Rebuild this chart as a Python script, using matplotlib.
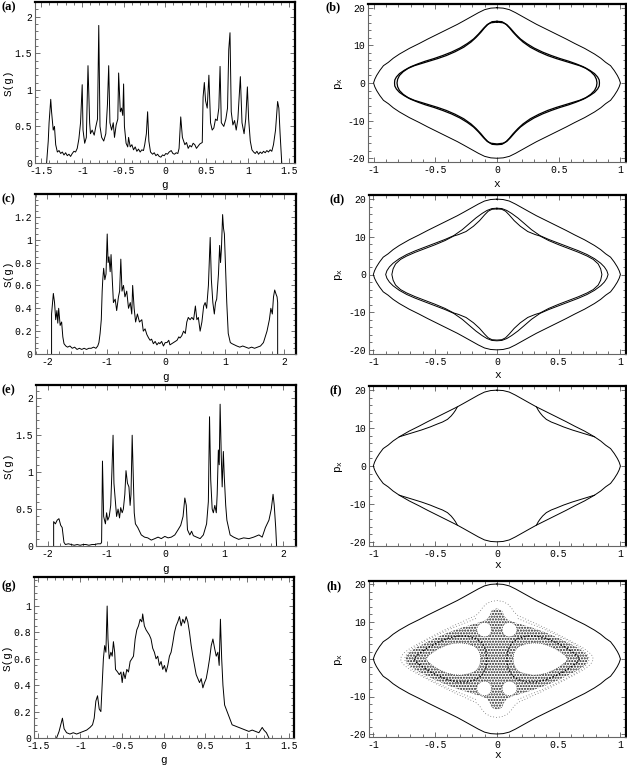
import numpy as np
import matplotlib
matplotlib.use("Agg")
import matplotlib.pyplot as plt
from matplotlib.ticker import MultipleLocator, FormatStrFormatter, FixedLocator

plt.rcParams['font.family'] = ['Liberation Mono', 'DejaVu Sans Mono']
plt.rcParams['axes.unicode_minus'] = False
plt.rcParams['mathtext.fontset'] = 'custom'
plt.rcParams['mathtext.rm'] = 'Liberation Mono'
plt.rcParams['hatch.linewidth'] = 1.0

# ---------------- spectra S(g) ----------------
g_a = [-1.43, -1.41, -1.40, -1.38, -1.37, -1.35, -1.335, -1.32, -1.30, -1.28,
       -1.26, -1.24, -1.22, -1.20, -1.18, -1.16, -1.14, -1.12, -1.10, -1.08,
       -1.06, -1.04, -1.02, -1.00, -0.99, -0.97, -0.95, -0.93, -0.91, -0.90,
       -0.88, -0.855, -0.835, -0.815, -0.80, -0.785, -0.765, -0.74, -0.715, -0.695,
       -0.68, -0.665, -0.645, -0.625, -0.61, -0.59, -0.57, -0.56, -0.54, -0.525,
       -0.51, -0.50, -0.49, -0.47, -0.45, -0.44, -0.42, -0.40, -0.38, -0.36,
       -0.34, -0.32, -0.30, -0.28, -0.26, -0.245, -0.225, -0.21, -0.195, -0.175,
       -0.15, -0.13, -0.11, -0.09, -0.07, -0.05, -0.03, -0.01, 0.01, 0.03,
       0.05, 0.075, 0.095, 0.115, 0.135, 0.155, 0.17, 0.19, 0.21, 0.24,
       0.26, 0.28, 0.30, 0.32, 0.34, 0.36, 0.38, 0.40, 0.42, 0.45,
       0.46, 0.475, 0.49, 0.51, 0.53, 0.55, 0.57, 0.59, 0.61, 0.63,
       0.65, 0.665, 0.68, 0.71, 0.735, 0.755, 0.77, 0.785, 0.80, 0.82,
       0.84, 0.86, 0.88, 0.895, 0.91, 0.93, 0.955, 0.975, 0.995, 1.01,
       1.03, 1.05, 1.07, 1.09, 1.11, 1.13, 1.15, 1.17, 1.19, 1.21,
       1.23, 1.25, 1.27, 1.29, 1.31, 1.335, 1.36, 1.375, 1.39, 1.41]
s_a = [0.00, 0.30, 0.55, 0.87, 0.70, 0.45, 0.50, 0.25, 0.15, 0.17,
       0.13, 0.15, 0.11, 0.14, 0.10, 0.12, 0.09, 0.13, 0.16, 0.15,
       0.20, 0.33, 0.55, 1.07, 0.45, 0.27, 0.35, 1.33, 0.55, 0.40,
       0.45, 0.38, 0.50, 0.60, 1.88, 0.50, 0.35, 0.30, 0.40, 0.80,
       1.33, 0.55, 0.45, 0.55, 0.35, 0.52, 0.60, 1.23, 0.70, 0.75,
       0.65, 1.08, 0.50, 0.27, 0.22, 0.35, 0.22, 0.25, 0.18, 0.22,
       0.16, 0.19, 0.15, 0.18, 0.17, 0.25, 0.40, 0.70, 0.30, 0.15,
       0.12, 0.14, 0.10, 0.12, 0.09, 0.08, 0.11, 0.10, 0.13, 0.12,
       0.15, 0.17, 0.13, 0.12, 0.14, 0.13, 0.20, 0.63, 0.35, 0.25,
       0.28, 0.20, 0.24, 0.22, 0.27, 0.25, 0.20, 0.23, 0.26, 0.28,
       0.90, 1.10, 0.85, 0.75, 1.20, 0.55, 0.45, 0.48, 0.60, 0.58,
       0.75, 1.32, 0.55, 0.50, 0.60, 0.75, 1.55, 1.78, 0.70, 0.52,
       0.58, 0.45, 0.60, 0.90, 1.18, 0.55, 0.40, 0.60, 1.04, 0.60,
       0.30, 0.18, 0.15, 0.13, 0.16, 0.12, 0.15, 0.13, 0.16, 0.14,
       0.17, 0.15, 0.18, 0.16, 0.25, 0.45, 0.84, 0.75, 0.40, 0.00]

g_c = [-1.93, -1.93, -1.90, -1.88, -1.86, -1.84, -1.825, -1.81, -1.785, -1.76,
       -1.74, -1.72, -1.69, -1.66, -1.62, -1.58, -1.54, -1.50, -1.46, -1.42,
       -1.38, -1.34, -1.30, -1.26, -1.22, -1.18, -1.15, -1.13, -1.11, -1.09,
       -1.075, -1.065, -1.05, -1.03, -1.01, -0.99, -0.975, -0.96, -0.94, -0.925,
       -0.90, -0.885, -0.855, -0.83, -0.80, -0.78, -0.76, -0.74, -0.715, -0.69,
       -0.66, -0.63, -0.60, -0.575, -0.56, -0.535, -0.51, -0.48, -0.445, -0.405,
       -0.38, -0.35, -0.32, -0.29, -0.265, -0.24, -0.21, -0.18, -0.15, -0.12,
       -0.10, -0.07, -0.04, -0.01, 0.02, 0.05, 0.07, 0.10, 0.13, 0.16,
       0.19, 0.22, 0.24, 0.27, 0.30, 0.33, 0.355, 0.38, 0.41, 0.44,
       0.47, 0.50, 0.525, 0.55, 0.58, 0.61, 0.64, 0.665, 0.69, 0.72,
       0.75, 0.77, 0.795, 0.82, 0.84, 0.86, 0.89, 0.91, 0.925, 0.94,
       0.96, 0.975, 0.99, 1.01, 1.03, 1.055, 1.09, 1.12, 1.16, 1.20,
       1.25, 1.30, 1.35, 1.40, 1.45, 1.50, 1.55, 1.60, 1.65, 1.71,
       1.75, 1.775, 1.80, 1.82, 1.84, 1.865, 1.88, 1.89, 1.89]
s_c = [0.00, 0.35, 0.53, 0.45, 0.30, 0.38, 0.27, 0.40, 0.25, 0.28,
       0.15, 0.09, 0.07, 0.06, 0.07, 0.05, 0.06, 0.04, 0.05, 0.04,
       0.05, 0.04, 0.05, 0.05, 0.06, 0.05, 0.07, 0.10, 0.18, 0.30,
       0.55, 0.65, 0.75, 0.65, 0.70, 1.05, 0.80, 0.85, 0.72, 0.87,
       0.60, 0.45, 0.48, 0.38, 0.50, 0.55, 0.83, 0.55, 0.60, 0.50,
       0.55, 0.40, 0.45, 0.35, 0.60, 0.40, 0.28, 0.35, 0.28, 0.30,
       0.20, 0.22, 0.17, 0.14, 0.12, 0.13, 0.09, 0.11, 0.08, 0.10,
       0.09, 0.11, 0.07, 0.10, 0.10, 0.12, 0.08, 0.09, 0.10, 0.11,
       0.12, 0.15, 0.14, 0.16, 0.20, 0.18, 0.28, 0.32, 0.30, 0.32,
       0.30, 0.42, 0.30, 0.32, 0.20, 0.28, 0.42, 0.45, 0.40, 0.60,
       1.02, 0.65, 0.45, 0.35, 0.45, 0.48, 0.70, 0.95, 0.80, 0.92,
       1.22, 1.10, 1.05, 0.75, 0.45, 0.18, 0.10, 0.09, 0.08, 0.07,
       0.06, 0.07, 0.06, 0.05, 0.06, 0.05, 0.06, 0.07, 0.10, 0.20,
       0.30, 0.40, 0.35, 0.50, 0.56, 0.52, 0.50, 0.45, 0.00]

g_e = [-1.90, -1.90, -1.87, -1.84, -1.81, -1.78, -1.755, -1.725, -1.70, -1.65,
       -1.60, -1.55, -1.50, -1.45, -1.40, -1.35, -1.30, -1.25, -1.20, -1.15,
       -1.10, -1.085, -1.07, -1.05, -1.02, -1.00, -0.98, -0.955, -0.93, -0.91,
       -0.89, -0.875, -0.85, -0.83, -0.805, -0.78, -0.76, -0.735, -0.715, -0.69,
       -0.67, -0.645, -0.62, -0.60, -0.585, -0.565, -0.555, -0.53, -0.51, -0.47,
       -0.41, -0.355, -0.30, -0.24, -0.18, -0.125, -0.07, -0.01, 0.045, 0.10,
       0.16, 0.215, 0.26, 0.30, 0.33, 0.355, 0.375, 0.415, 0.445, 0.475,
       0.53, 0.59, 0.645, 0.70, 0.73, 0.75, 0.77, 0.795, 0.815, 0.84,
       0.865, 0.88, 0.90, 0.915, 0.93, 0.95, 0.965, 0.985, 1.00, 1.025,
       1.045, 1.10, 1.16, 1.245, 1.33, 1.42, 1.50, 1.59, 1.645, 1.70,
       1.76, 1.80, 1.83, 1.85, 1.875, 1.89]
s_e = [0.00, 0.33, 0.30, 0.35, 0.37, 0.28, 0.25, 0.05, 0.02, 0.03,
       0.02, 0.01, 0.02, 0.01, 0.02, 0.02, 0.01, 0.02, 0.02, 0.03,
       0.03, 0.05, 1.15, 0.40, 0.30, 0.45, 0.35, 0.40, 0.55, 1.00,
       1.50, 0.85, 0.60, 0.40, 0.50, 0.38, 0.52, 0.45, 0.50, 0.70,
       1.02, 0.85, 0.80, 0.55, 0.70, 1.50, 1.20, 0.45, 0.30, 0.25,
       0.15, 0.12, 0.11, 0.08, 0.10, 0.12, 0.10, 0.13, 0.11, 0.12,
       0.15, 0.22, 0.28, 0.40, 0.65, 0.55, 0.22, 0.15, 0.20, 0.14,
       0.12, 0.10, 0.15, 0.30, 0.60, 1.75, 0.90, 0.50, 0.45, 0.55,
       0.45, 0.70, 1.30, 1.10, 1.92, 1.20, 0.80, 1.28, 0.95, 0.55,
       0.35, 0.15, 0.12, 0.09, 0.11, 0.10, 0.12, 0.15, 0.12, 0.25,
       0.35, 0.50, 0.70, 0.55, 0.25, 0.00]

g_g = [-1.28, -1.25, -1.23, -1.21, -1.19, -1.16, -1.12, -1.08, -1.04, -1.00,
       -0.96, -0.92, -0.88, -0.85, -0.83, -0.81, -0.79, -0.77, -0.75, -0.735,
       -0.72, -0.705, -0.69, -0.675, -0.665, -0.65, -0.63, -0.615, -0.60, -0.585,
       -0.575, -0.55, -0.53, -0.51, -0.495, -0.48, -0.46, -0.44, -0.42, -0.40,
       -0.38, -0.36, -0.34, -0.32, -0.30, -0.28, -0.26, -0.25, -0.23, -0.21,
       -0.19, -0.17, -0.15, -0.13, -0.11, -0.09, -0.07, -0.05, -0.03, -0.01,
       0.01, 0.03, 0.05, 0.07, 0.09, 0.11, 0.13, 0.15, 0.17, 0.19,
       0.21, 0.23, 0.25, 0.27, 0.29, 0.31, 0.33, 0.35, 0.37, 0.39,
       0.41, 0.43, 0.45, 0.47, 0.49, 0.51, 0.53, 0.55, 0.57, 0.59,
       0.61, 0.63, 0.65, 0.665, 0.68, 0.695, 0.71, 0.73, 0.76, 0.79,
       0.82, 0.86, 0.90, 0.94, 0.98, 1.02, 1.06, 1.10, 1.14, 1.16,
       1.18, 1.20, 1.23, 1.26]
s_g = [0.00, 0.05, 0.10, 0.15, 0.07, 0.04, 0.03, 0.04, 0.03, 0.04,
       0.05, 0.06, 0.08, 0.10, 0.15, 0.28, 0.32, 0.22, 0.20, 0.40,
       0.60, 0.70, 0.65, 1.00, 0.75, 0.60, 0.65, 0.62, 0.73, 0.65,
       0.52, 0.50, 0.48, 0.50, 0.42, 0.50, 0.45, 0.52, 0.50, 0.58,
       0.60, 0.62, 0.75, 0.82, 0.85, 0.90, 0.88, 0.94, 0.85, 0.82,
       0.80, 0.78, 0.75, 0.68, 0.65, 0.60, 0.62, 0.55, 0.58, 0.52,
       0.55, 0.50, 0.55, 0.62, 0.65, 0.72, 0.80, 0.85, 0.88, 0.92,
       0.85, 0.90, 0.87, 0.92, 0.88, 0.80, 0.70, 0.62, 0.55, 0.48,
       0.45, 0.42, 0.45, 0.38, 0.42, 0.45, 0.52, 0.60, 0.70, 0.75,
       0.68, 0.62, 0.65, 0.55, 0.90, 0.60, 0.40, 0.25, 0.20, 0.15,
       0.10, 0.09, 0.08, 0.07, 0.06, 0.05, 0.06, 0.05, 0.04, 0.06,
       0.08, 0.06, 0.04, 0.00]

# ---------------- phase-space curves (first quadrant, x >= 0, p >= 0) ----------------
outer_x = [0.0, 0.05, 0.10, 0.15, 0.21, 0.27, 0.32, 0.40, 0.48, 0.56,
           0.63, 0.71, 0.79, 0.84, 0.88, 0.92, 0.95, 0.975, 0.99, 1.0]
outer_p = [20.0, 19.9, 19.5, 18.7, 17.6, 16.5, 15.6, 14.3, 13.0, 11.7,
           10.5, 9.2, 7.7, 6.6, 5.5, 4.6, 3.3, 2.0, 1.0, 0.0]

b1_x = [0.0, 0.04, 0.07, 0.10, 0.13, 0.17, 0.21, 0.27, 0.34, 0.41,
        0.48, 0.55, 0.61, 0.67, 0.72, 0.76, 0.79, 0.805, 0.81]
b1_p = [16.4, 16.3, 15.7, 14.7, 13.5, 12.1, 10.9, 9.5, 8.3, 7.3,
        6.5, 5.8, 5.2, 4.6, 3.9, 3.0, 2.0, 1.0, 0.0]
b2_x = [0.0, 0.05, 0.08, 0.11, 0.15, 0.19, 0.24, 0.30, 0.37, 0.44,
        0.51, 0.58, 0.64, 0.70, 0.75, 0.79, 0.815, 0.828, 0.83]
b2_p = [16.2, 16.0, 15.5, 14.5, 13.0, 11.7, 10.5, 9.3, 8.2, 7.3,
        6.5, 5.8, 5.1, 4.3, 3.4, 2.5, 1.6, 0.8, 0.0]

d1_x = [0.0, 0.04, 0.08, 0.12, 0.17, 0.22, 0.28, 0.35, 0.42, 0.50,
        0.58, 0.66, 0.73, 0.79, 0.84, 0.87, 0.89, 0.90]
d1_p = [17.6, 17.5, 17.0, 16.2, 15.0, 13.6, 11.9, 10.3, 9.3, 8.3,
        7.3, 6.3, 5.3, 4.2, 3.0, 2.0, 1.0, 0.0]
d2_x = [0.0, 0.04, 0.07, 0.10, 0.14, 0.19, 0.25, 0.31, 0.35, 0.42,
        0.50, 0.58, 0.66, 0.73, 0.78, 0.82, 0.84, 0.85]
d2_p = [17.4, 17.3, 16.8, 15.8, 14.3, 12.8, 11.4, 10.6, 10.2, 9.0,
        7.9, 6.9, 5.9, 4.9, 4.0, 2.8, 1.5, 0.0]

f_arc_x = [0.32, 0.335, 0.35, 0.37, 0.40, 0.44, 0.48, 0.54, 0.61, 0.68, 0.75, 0.79]
f_arc_p = [15.6, 14.7, 14.0, 13.2, 12.3, 11.6, 11.1, 10.3, 9.5, 8.8, 8.1, 7.7]

# chaotic sea of panel (h)
h_env_x = [0.0, 0.05, 0.09, 0.12, 0.14, 0.17, 0.25, 0.35, 0.45, 0.55,
           0.63, 0.70, 0.745, 0.77, 0.78]
h_env_p = [15.6, 15.3, 14.6, 13.5, 12.5, 11.6, 10.4, 8.9, 7.3, 5.6,
           4.2, 2.9, 1.8, 0.9, 0.0]
h_mid_x = [0.17, 0.25, 0.35, 0.45, 0.55, 0.63, 0.69, 0.73, 0.75]
h_mid_p = [10.8, 9.7, 8.4, 6.9, 5.3, 3.9, 2.6, 1.3, 0.0]
h_dense_x = [0.0, 0.04, 0.06, 0.08, 0.12, 0.20, 0.30, 0.40, 0.50, 0.58,
             0.65, 0.70, 0.73, 0.74]
h_dense_p = [13.5, 13.0, 11.5, 10.6, 10.0, 9.2, 8.2, 7.0, 5.6, 4.3,
             3.1, 2.0, 1.0, 0.0]
h_hole_x = [0.13, 0.135, 0.15, 0.18, 0.23, 0.29, 0.35, 0.41, 0.47, 0.52, 0.555, 0.575]
h_hole_p = [0.0, 1.3, 2.5, 3.4, 4.0, 4.3, 4.2, 3.7, 2.8, 1.8, 0.9, 0.0]
h_ring_x = [0.08, 0.09, 0.12, 0.17, 0.24, 0.32, 0.40, 0.48, 0.55, 0.61, 0.65, 0.67]
h_ring_p = [0.0, 2.4, 4.3, 5.5, 6.1, 6.1, 5.5, 4.4, 3.2, 1.9, 0.9, 0.0]
h_eye_x = [0.04, 0.05, 0.07, 0.10, 0.13, 0.155, 0.165, 0.155, 0.13, 0.10, 0.07, 0.05, 0.04]
h_eye_p = [7.8, 8.9, 9.6, 9.8, 9.6, 8.9, 7.8, 6.8, 6.1, 5.9, 6.1, 6.8, 7.8]


def mirror4(xq, pq):
    """Close a first-quadrant arc into a loop symmetric in x and p."""
    xq = np.asarray(xq)
    pq = np.asarray(pq)
    x = np.concatenate([xq, xq[::-1], -xq, -xq[::-1]])
    p = np.concatenate([pq, -pq[::-1], -pq, pq[::-1]])
    return x, p


def style_axes(ax, xlabel, ylabel, xmaj, xmin, ymaj, ymin, yticks=None):
    ax.xaxis.set_major_locator(MultipleLocator(xmaj))
    ax.xaxis.set_minor_locator(MultipleLocator(xmin))
    if yticks is None:
        ax.yaxis.set_major_locator(MultipleLocator(ymaj))
    else:
        ax.yaxis.set_major_locator(FixedLocator(yticks))
    ax.yaxis.set_minor_locator(MultipleLocator(ymin))
    ax.xaxis.set_major_formatter(FormatStrFormatter('%g'))
    ax.yaxis.set_major_formatter(FormatStrFormatter('%g'))
    ax.tick_params(which='both', direction='in', top=True, right=True,
                   color='0.35', width=0.6, labelsize=7, pad=2)
    ax.tick_params(which='major', length=3.5)
    ax.tick_params(which='minor', length=2)
    for side in ['top', 'right']:
        ax.spines[side].set_linewidth(1.6)
        ax.spines[side].set_color('black')
    for side in ['left', 'bottom']:
        ax.spines[side].set_linewidth(0.8)
        ax.spines[side].set_color('0.4')
    ax.set_xlabel(xlabel, fontsize=8)
    ax.set_ylabel(ylabel, fontsize=8)


fig = plt.figure(figsize=(6.27, 7.67), dpi=100)
W, H = 627.0, 767.0


def add_axes(left, top, right, bottom):
    ax = fig.add_axes([left / W, 1 - bottom / H, (right - left) / W, (bottom - top) / H])
    return ax


def place_labels(ax, left, top, right, bottom, ylab_x, xlab_y):
    # ylab_x: right edge of the rotated y label, xlab_y: top of the x label (pixels)
    ax.yaxis.set_label_coords((ylab_x - left) / (right - left), 0.5)
    ax.xaxis.set_label_coords(0.5, (bottom - xlab_y) / (bottom - top))


line_kw = dict(color='black', lw=0.7)

# (a)
box = (35, 2, 295, 163)
ax = add_axes(*box)
ax.plot(g_a, s_a, **line_kw)
ax.set_xlim(-1.57, 1.57)
ax.set_ylim(0, 2.2)
style_axes(ax, 'g', 'S(g)', 0.5, 0.1, 0.5, 0.1)
place_labels(ax, *box, 14, 180)

# (c)
box = (35, 194, 296, 354)
ax = add_axes(*box)
ax.plot(g_c, s_c, **line_kw)
ax.set_xlim(-2.21, 2.2)
ax.set_ylim(0, 1.4)
style_axes(ax, 'g', 'S(g)', 1, 0.2, 0.2, 0.05, yticks=[0, 0.2, 0.4, 0.6, 0.8, 1, 1.2])
place_labels(ax, *box, 14, 372)

# (e)
box = (36, 385, 296, 546)
ax = add_axes(*box)
ax.plot(g_e, s_e, **line_kw)
ax.set_xlim(-2.2, 2.22)
ax.set_ylim(0, 2.18)
style_axes(ax, 'g', 'S(g)', 1, 0.2, 0.5, 0.1)
place_labels(ax, *box, 14, 564)

# (g)
box = (34, 577, 294, 738)
ax = add_axes(*box)
ax.plot(g_g, s_g, **line_kw)
ax.set_xlim(-1.55, 1.56)
ax.set_ylim(0, 1.22)
style_axes(ax, 'g', 'S(g)', 0.5, 0.1, 0.2, 0.05, yticks=[0, 0.2, 0.4, 0.6, 0.8, 1])
place_labels(ax, *box, 13, 755)

px_label = r'$\mathregular{p_x}$'
ox, op = mirror4(outer_x, outer_p)

# (b)
box = (368, 4, 626, 162)
ax = add_axes(*box)
ax.plot(ox, op, **line_kw)
for cx, cp in [(b1_x, b1_p), (b2_x, b2_p)]:
    x, p = mirror4(cx, cp)
    ax.plot(x, p, color='black', lw=0.9)
ax.set_xlim(-1.045, 1.045)
ax.set_ylim(-21, 21)
style_axes(ax, 'x', px_label, 0.5, 0.1, 10, 2)
place_labels(ax, *box, 345, 179)

# (d)
box = (369, 195, 626, 354)
ax = add_axes(*box)
ax.plot(ox, op, **line_kw)
for cx, cp in [(d1_x, d1_p), (d2_x, d2_p)]:
    x, p = mirror4(cx, cp)
    ax.plot(x, p, **line_kw)
ax.set_xlim(-1.035, 1.045)
ax.set_ylim(-21.1, 21.1)
style_axes(ax, 'x', px_label, 0.5, 0.1, 10, 2)
place_labels(ax, *box, 345, 370)

# (f)
box = (369, 386, 626, 546)
ax = add_axes(*box)
ax.plot(ox, op, **line_kw)
for sx in (1, -1):
    for sp in (1, -1):
        ax.plot(sx * np.asarray(f_arc_x), sp * np.asarray(f_arc_p), **line_kw)
ax.set_xlim(-1.035, 1.045)
ax.set_ylim(-21.1, 21.1)
style_axes(ax, 'x', px_label, 0.5, 0.1, 10, 2)
place_labels(ax, *box, 345, 560)

# (h)
box = (369, 581, 626, 737)
ax = add_axes(*box)
ax.plot(ox, op, **line_kw)
x, p = mirror4(h_dense_x, h_dense_p)
ax.fill(x, p, facecolor='white', edgecolor='0.1', hatch='......', lw=0)
hx = np.concatenate([h_hole_x, h_hole_x[::-1]])
hp = np.concatenate([h_hole_p, -np.asarray(h_hole_p[::-1])])
rx = np.concatenate([h_ring_x, h_ring_x[::-1]])
rp = np.concatenate([h_ring_p, -np.asarray(h_ring_p[::-1])])
dot = (0, (1, 1.5))
for sx in (1, -1):
    ax.plot(sx * rx, rp, color='black', lw=1.0, ls=dot)
    ax.fill(sx * hx, hp, facecolor='white', edgecolor='none')
    ax.plot(sx * hx, hp, color='0.25', lw=0.6, ls=dot)
for sx in (1, -1):
    for sp in (1, -1):
        ax.fill(sx * np.asarray(h_eye_x), sp * np.asarray(h_eye_p),
                facecolor='white', edgecolor='none')
        ax.plot(sx * np.asarray(h_eye_x), sp * np.asarray(h_eye_p),
                color='0.25', lw=0.6, ls=dot)
        ax.plot(sx * np.asarray(h_mid_x), sp * np.asarray(h_mid_p),
                color='0.45', lw=0.6, ls=(0, (1, 2.5)))
x, p = mirror4(h_env_x, h_env_p)
ax.plot(x, p, color='0.45', lw=0.6, ls=(0, (1, 2.5)))
ax.set_xlim(-1.035, 1.045)
ax.set_ylim(-20.8, 20.8)
style_axes(ax, 'x', px_label, 0.5, 0.1, 10, 2)
place_labels(ax, *box, 345, 750)

# panel letters
for lab, xp, yp in [('(a)', 1, 7), ('(b)', 326, 7), ('(c)', 1, 199), ('(d)', 330, 199),
                    ('(e)', 1, 390), ('(f)', 330, 390), ('(g)', 1, 586), ('(h)', 327, 586)]:
    fig.text(xp / W, 1 - yp / H, lab, family='Liberation Serif', weight='bold',
             fontsize=9, ha='left', va='center')

fig.savefig('out.png', dpi=100)
